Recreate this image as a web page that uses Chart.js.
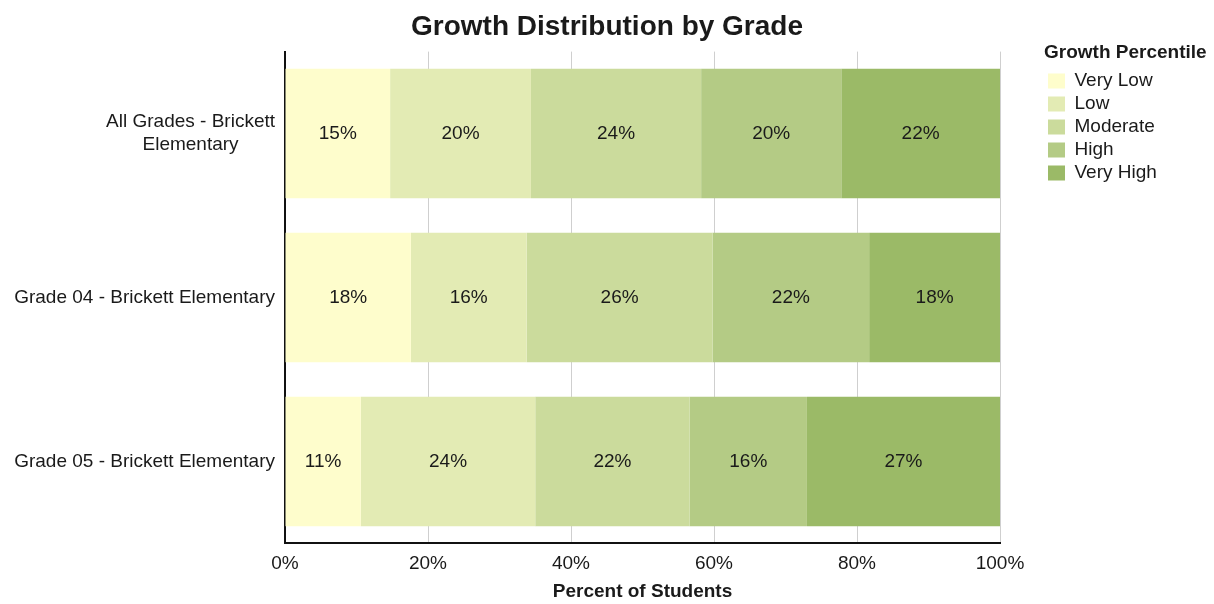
<!DOCTYPE html>
<html>
<head>
<meta charset="utf-8">
<script src="https://cdn.jsdelivr.net/npm/chart.js@4"></script>
<style>
  html, body { margin: 0; padding: 0; background: #fff; }
  #wrap { width: 1214px; height: 604px; }
</style>
</head>
<body>
<div id="wrap"><canvas id="growthChart"></canvas></div>
<script>
// grades on the y axis (each label can be several lines)
const grades = [
  ['All Grades - Brickett', 'Elementary'],
  ['Grade 04 - Brickett Elementary'],
  ['Grade 05 - Brickett Elementary']
];

// growth percentile bands, percent of students per grade
const bandNames = ['Very Low', 'Low', 'Moderate', 'High', 'Very High'];
const veryLow = [14.7, 17.6, 10.6];
const low = [19.7, 16.2, 24.4];
const moderate = [23.8, 26.0, 21.6];
const high = [19.6, 21.9, 16.4];
const veryHigh = [22.2, 18.3, 27.0];

const xTicks = [0, 20, 40, 60, 80, 100];

const bandColors = ['#fefdcc', '#e3ebb4', '#cbdb9c', '#b4cb85', '#9bba67'];
const FONT = 'Liberation Sans, Arial, sans-serif';
const TEXT = '#1a1a1a';

const bandValues = [veryLow, low, moderate, high, veryHigh];

// percent labels in the middle of each segment
const segmentLabels = {
  id: 'segmentLabels',
  afterDatasetsDraw(chart) {
    const ctx = chart.ctx;
    ctx.save();
    ctx.font = '19px ' + FONT;
    ctx.fillStyle = TEXT;
    ctx.textAlign = 'center';
    ctx.textBaseline = 'middle';
    chart.data.datasets.forEach((ds, i) => {
      chart.getDatasetMeta(i).data.forEach((bar, j) => {
        const p = bar.getCenterPoint();
        ctx.fillText(Math.round(ds.data[j]) + '%', p.x, p.y);
      });
    });
    ctx.restore();
  }
};

// category labels: block right-aligned, lines centred inside the block
const gradeLabels = {
  id: 'gradeLabels',
  afterDraw(chart) {
    const ctx = chart.ctx;
    const yScale = chart.scales.y;
    const right = chart.chartArea.left - 10;
    const lineH = 23;
    ctx.save();
    ctx.font = '19px ' + FONT;
    ctx.fillStyle = TEXT;
    ctx.textAlign = 'center';
    ctx.textBaseline = 'middle';
    grades.forEach((lines, i) => {
      const yc = yScale.getPixelForTick(i);
      const w = Math.max(...lines.map(l => ctx.measureText(l).width));
      const xc = right - w / 2;
      const y0 = yc - (lines.length - 1) * lineH / 2;
      lines.forEach((l, k) => ctx.fillText(l, xc, y0 + k * lineH));
    });
    ctx.restore();
  }
};

// legend: fixed column on the right, set a bit off the plot
const legendPlace = {
  id: 'legendPlace',
  beforeLayout(chart) {
    const lg = chart.legend;
    if (lg && !lg._fixedFit) {
      const fit = lg.fit.bind(lg);
      lg.fit = function () { fit(); this.width = 214; };
      lg._fixedFit = true;
    }
  },
  afterLayout(chart) {
    const lg = chart.legend;
    lg.left = chart.chartArea.right + 44;
    lg.top = chart.chartArea.top - 11;
  }
};

new Chart(document.getElementById('growthChart'), {
  type: 'bar',
  data: {
    labels: grades,
    datasets: bandNames.map((name, i) => ({
      label: name,
      data: bandValues[i],
      backgroundColor: bandColors[i],
      borderWidth: 0,
      categoryPercentage: 1,
      barPercentage: 0.79
    }))
  },
  options: {
    indexAxis: 'y',
    responsive: true,
    maintainAspectRatio: false,
    animation: false,
    layout: { padding: 0 },
    plugins: {
      title: {
        display: true,
        text: 'Growth Distribution by Grade',
        color: TEXT,
        font: { family: FONT, size: 28, weight: 'bold' },
        padding: { top: 10, bottom: 8 }
      },
      legend: {
        position: 'right',
        align: 'start',
        fullSize: false,
        title: {
          display: true,
          text: 'Growth Percentile',
          color: TEXT,
          position: 'start',
          font: { family: FONT, size: 19, weight: 'bold' },
          padding: { top: 3, bottom: 1 }
        },
        labels: {
          color: TEXT,
          boxWidth: 17,
          boxHeight: 15,
          padding: 4,
          font: { family: FONT, size: 19 }
        }
      },
      tooltip: { enabled: false }
    },
    scales: {
      x: {
        stacked: true,
        min: 0,
        max: 100,
        afterBuildTicks: scale => { scale.ticks = xTicks.map(v => ({ value: v })); },
        grid: { color: '#cfcfcf', lineWidth: 1, drawTicks: false },
        border: { display: true, color: '#111', width: 2 },
        ticks: {
          color: TEXT,
          padding: 9,
          font: { family: FONT, size: 19 },
          callback: v => v + '%'
        },
        title: {
          display: true,
          text: 'Percent of Students',
          color: TEXT,
          font: { family: FONT, size: 19, weight: 'bold' },
          padding: { top: -4, bottom: 1 }
        }
      },
      y: {
        stacked: true,
        grid: { display: false },
        border: { display: true, color: '#111', width: 2 },
        ticks: { display: false },
        afterFit: scale => { scale.width = 285; }
      }
    }
  },
  plugins: [segmentLabels, gradeLabels, legendPlace]
});
</script>
</body>
</html>
